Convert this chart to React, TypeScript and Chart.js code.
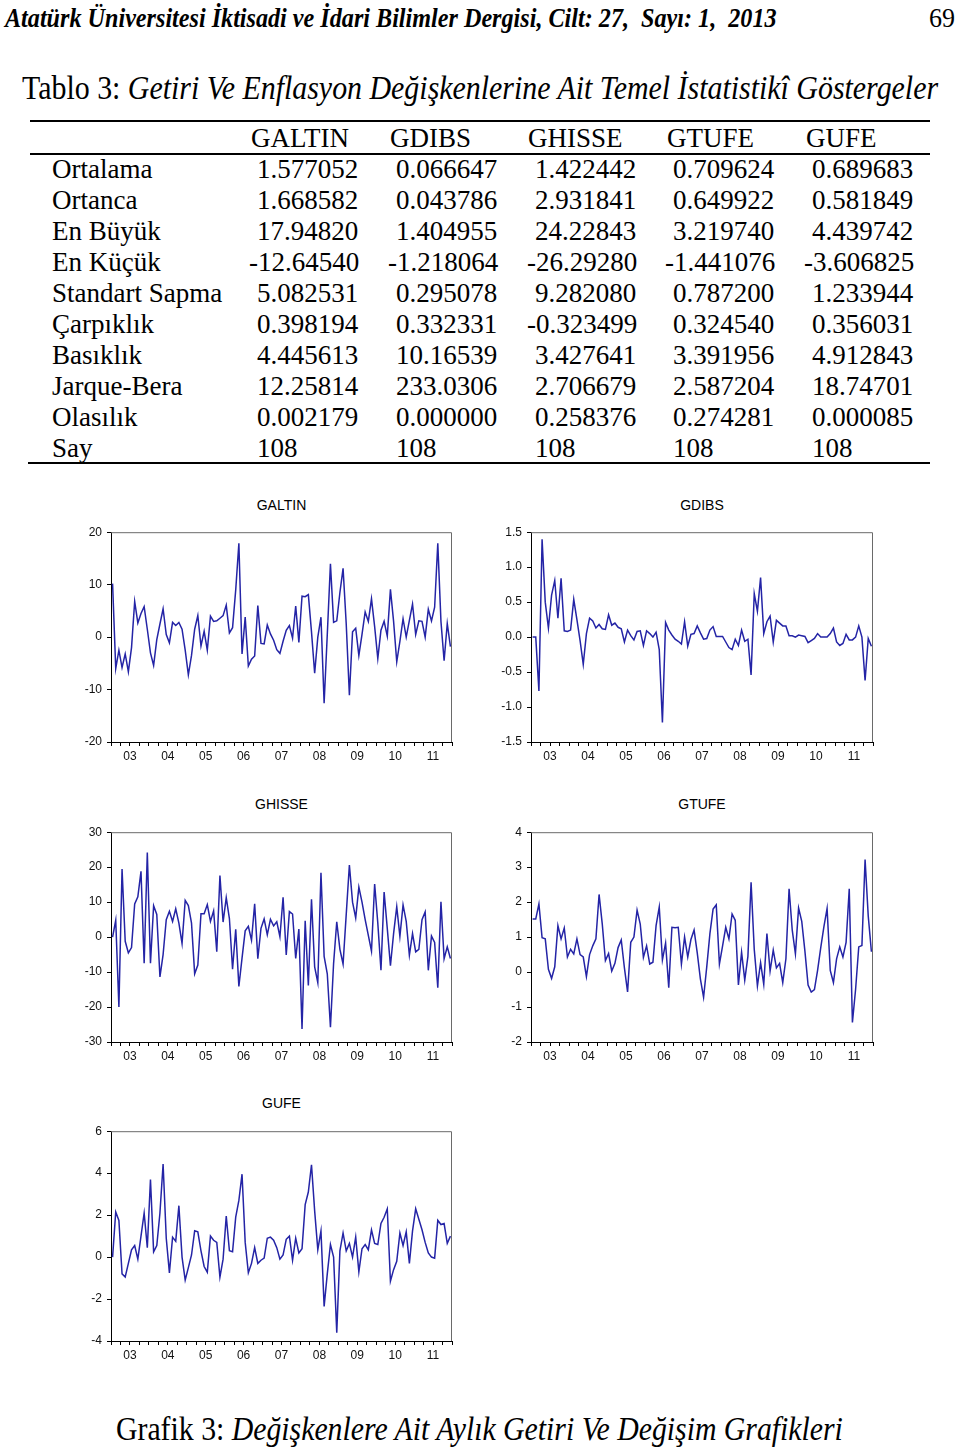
import React, { useEffect, useLayoutEffect, useRef, useState } from 'react';
import { Chart, registerables } from 'chart.js';
Chart.register(...registerables);

// ---------- data ----------
const yearLabels = ['03', '04', '05', '06', '07', '08', '09', '10', '11'];

const galtin = [10.2, -6, -2.5, -5.8, -3.2, -6.6, -2, 6.8, 2.7, 4.5, 5.8, 1.5, -3, -5.4, -0.5, 2.5, 5.4, 0.5, -1.1, 2.8, 2.2, 2.8, 1.5, -2.5, -7.2, -3.5, 1.5, 4.1, -1.7, 1.1, -2.5, 4, 3, 3.1, 3.6, 4.1, 6.1, 0.8, 1.8, 9, 17.9, -3.2, 3.8, -5.5, -4.2, -3.6, 6, -1.2, -1.3, 2.3, 0.6, -0.6, -2.4, -3.1, -0.8, 1.3, 2.2, -0.2, 5.9, -1, 7.8, 7.7, 8.1, 1, -6.9, 0, 3.8, -12.6, 0.5, 14, 2.8, 3.1, 8.5, 13.1, 2.5, -11.1, 1, 1.7, -3.5, 0.5, 4.8, 3, 7.3, 2, -4.1, 1.3, 3, 0.2, 9.1, 3, -4.7, -0.8, 3.5, 0, 3.2, 6.3, 0.5, 3.1, 3, 0, 5.3, 3.1, 5.7, 17.9, 3, -4.5, 2.6, -1.8];

const gdibs = [0.0, 0.0, -0.77, 1.4, 0.5, 0.13, 0.6, 0.81, 0.27, 0.84, 0.09, 0.08, 0.1, 0.54, 0.25, -0.05, -0.39, 0.05, 0.27, 0.23, 0.13, 0.18, 0.12, 0.11, 0.32, 0.17, 0.2, 0.14, 0.12, -0.07, 0.1, 0.02, -0.04, 0.08, 0.09, -0.12, 0.09, 0.05, 0.0, 0.07, -0.18, -1.22, 0.21, 0.1, 0.03, -0.03, -0.06, -0.1, 0.22, -0.13, 0.04, 0.05, 0.16, 0.06, -0.03, -0.02, 0.1, 0.15, 0.01, 0.01, 0.01, -0.07, -0.15, -0.18, -0.03, -0.12, 0.1, -0.06, -0.03, -0.54, 0.62, 0.37, 0.85, 0.05, 0.22, 0.3, -0.07, 0.24, 0.2, 0.16, 0.16, 0.02, 0.02, 0.0, 0.03, 0.02, 0.01, -0.08, -0.05, -0.02, 0.05, 0.0, 0.0, 0.0, 0.05, 0.13, -0.07, -0.12, -0.09, 0.04, -0.04, -0.04, 0.0, 0.16, 0.0, -0.62, -0.02, -0.13];

const ghisse = [0, 4.8, -20, 19.5, -1.2, -4.5, -3, 9.5, 11.5, 18.8, -7.5, 24.2, -7.5, 9, 6.5, -11.4, -5, 5, 7.4, 4.5, 8.1, 4, -1.8, 10.5, 9, 4, -10.5, -8, 6.7, 6.7, 9.3, 4.5, 7.5, -4.2, 17.6, 4.3, 11.3, 5.3, -9.2, 2.2, -14.1, -6, 1.8, 3.1, -0.9, 9.5, -6.2, 2.5, 5.2, 0.7, 5.1, 3.2, 4.4, 0.1, 11.4, -5.1, 7.3, 6.6, -6.1, 2.3, -26.3, 4.7, -13.8, 10.8, -8.5, -13, 18.4, -5.5, -10.5, -25.8, -7.5, 4.4, -3.5, -7.7, 6.5, 20.6, 10, 5.5, 14.3, 10, 5, 0.5, -4, 15.2, 4, -9.5, 12.9, 2.5, -8.2, 1, 8.7, 0.2, 9.2, 4.5, -5.2, 1, -4.2, -3.5, 5, 7.2, -9.5, 0.3, -1.5, -14.5, 10.1, -6.2, -2.8, -6.1];

const gtufe = [1.52, 1.52, 1.95, 0.98, 0.95, 0.08, -0.18, 0.15, 1.33, 0.95, 1.26, 0.43, 0.65, 0.52, 0.95, 0.5, 0.43, -0.13, 0.5, 0.75, 0.95, 2.22, 1.38, 0.33, 0.53, 0.03, 0.25, 0.7, 0.92, 0.12, -0.57, 0.85, 1.0, 1.77, 1.37, 0.42, 0.75, 0.23, 0.28, 1.33, 1.86, 0.35, 0.83, -0.45, 1.28, 1.27, 1.28, 0.23, 1.0, 0.43, 0.93, 1.2, 0.55, -0.2, -0.72, 0.15, 1.1, 1.8, 1.92, 0.23, 0.75, 1.28, 0.95, 1.66, 1.48, -0.37, 0.57, -0.23, 0.45, 2.57, 0.65, -0.4, 0.27, -0.35, 1.1, 0.03, 0.63, 0.12, 0.25, -0.3, 0.38, 2.38, 1.2, 0.52, 1.83, 1.45, 0.6, -0.37, -0.57, -0.5, 0.05, 0.7, 1.3, 1.82, 0.05, -0.3, 0.38, 0.72, 0.43, 0.85, 2.38, -1.44, -0.5, 0.72, 0.76, 3.22, 1.6, 0.58];

const gufe = [0.0, 2.15, 1.75, -0.8, -0.95, -0.3, 0.35, 0.55, -0.1, 1.0, 2.1, 0.45, 3.7, 0.25, 0.55, 2.1, 4.44, 0.9, -0.75, 0.95, 0.75, 2.45, 0.0, -1.1, -0.5, 0.1, 1.25, 1.2, 0.3, -0.45, -0.72, 1.0, 0.8, 0.7, -0.95, -0.1, 1.95, 0.3, 0.25, 1.9, 2.7, 3.95, 0.7, -0.75, -0.3, 0.45, -0.3, -0.15, -0.05, 0.9, 0.95, 0.8, 0.45, -0.1, 0.1, 0.85, 1.0, -0.15, 0.9, 0.2, 0.4, 2.5, 3.1, 4.4, 2.2, 0.35, 1.25, -2.35, -0.8, 0.6, 0.0, -3.6, 0.3, 1.15, 0.3, 0.65, 0.0, 0.95, -0.7, 0.4, 0.6, 0.35, 1.3, 0.65, 0.6, 1.6, 1.9, 2.3, -1.15, -0.6, -0.2, 1.15, 0.55, 1.2, -0.3, 1.25, 2.3, 1.8, 1.3, 0.7, 0.2, 0.0, -0.05, 1.75, 1.55, 1.6, 0.65, 1.0];

const statColumns = ['GALTIN', 'GDIBS', 'GHISSE', 'GTUFE', 'GUFE'];
const statRows = ['Ortalama', 'Ortanca', 'En Büyük', 'En Küçük', 'Standart Sapma', 'Çarpıklık', 'Basıklık', 'Jarque-Bera', 'Olasılık', 'Say'];
const rowOrtalama = ['1.577052', '0.066647', '1.422442', '0.709624', '0.689683'];
const rowOrtanca = ['1.668582', '0.043786', '2.931841', '0.649922', '0.581849'];
const rowEnBuyuk = ['17.94820', '1.404955', '24.22843', '3.219740', '4.439742'];
const rowEnKucuk = ['-12.64540', '-1.218064', '-26.29280', '-1.441076', '-3.606825'];
const rowStdSapma = ['5.082531', '0.295078', '9.282080', '0.787200', '1.233944'];
const rowCarpiklik = ['0.398194', '0.332331', '-0.323499', '0.324540', '0.356031'];
const rowBasiklik = ['4.445613', '10.16539', '3.427641', '3.391956', '4.912843'];
const rowJarqueBera = ['12.25814', '233.0306', '2.706679', '2.587204', '18.74701'];
const rowOlasilik = ['0.002179', '0.000000', '0.258376', '0.274281', '0.000085'];
const rowSay = ['108', '108', '108', '108', '108'];
const statValues = [rowOrtalama, rowOrtanca, rowEnBuyuk, rowEnKucuk, rowStdSapma, rowCarpiklik, rowBasiklik, rowJarqueBera, rowOlasilik, rowSay];

// ---------- layout constants ----------
const SERIF = '"Liberation Serif", "Times New Roman", serif';
const SANS = '"Liberation Sans", Arial, sans-serif';
const LINE_COLOR = '#2424a6';

function FitText({ x, baseline, width, size, children, weight }: any) {
  const ref = useRef<HTMLSpanElement>(null);
  const [s, setS] = useState(1);
  useLayoutEffect(() => {
    if (ref.current) {
      const w = ref.current.offsetWidth;
      if (w > 0) setS(width / w);
    }
  }, [width]);
  return (
    <div
      style={{
        position: 'absolute',
        left: x,
        top: baseline - 0.8375 * size,
        whiteSpace: 'nowrap',
        lineHeight: size + 'px',
        fontSize: size,
        fontFamily: SERIF,
        fontWeight: weight || 'normal',
        color: '#000',
        transform: `scaleX(${s})`,
        transformOrigin: 'left top',
      }}
    >
      <span ref={ref}>{children}</span>
    </div>
  );
}

function Txt({ x, baseline, size, children, family, style }: any) {
  return (
    <div
      style={{
        position: 'absolute',
        left: x,
        top: baseline - 0.8375 * size,
        whiteSpace: 'nowrap',
        lineHeight: size + 'px',
        fontSize: size,
        fontFamily: family || SERIF,
        color: '#000',
        ...style,
      }}
    >
      {children}
    </div>
  );
}

const framePlugin = {
  id: 'frame',
  afterDraw(chart: any) {
    const { ctx, chartArea } = chart;
    const { left, top, right, bottom } = chartArea;
    ctx.save();
    ctx.strokeStyle = '#6a6a6a';
    ctx.lineWidth = 1;
    ctx.beginPath();
    ctx.moveTo(left, top + 0.5);
    ctx.lineTo(right - 0.5, top + 0.5);
    ctx.lineTo(right - 0.5, bottom);
    ctx.stroke();
    ctx.restore();
  },
};

const Y_AXIS_W = 41;
const PAD_TOP = 12;
const PAD_RIGHT = 8;
const X_AXIS_H = 30;

function SeriesChart({ title, values, yMin, yMax, step, decimals, plotLeft, plotTop, plotW, plotH, titleY }: any) {
  const ref = useRef<HTMLCanvasElement>(null);
  const W = plotW + Y_AXIS_W + PAD_RIGHT;
  const H = plotH + PAD_TOP + X_AXIS_H;
  useEffect(() => {
    if (!ref.current) return;
    const n = values.length;
    const data = values.map((v: number, i: number) => ({ x: i, y: v }));
    const quarterTicks: { value: number }[] = [];
    for (let k = 0; k * 3 <= n; k++) quarterTicks.push({ value: -0.5 + k * 3 });
    const chart = new Chart(ref.current, {
      type: 'line',
      data: {
        datasets: [
          {
            data,
            borderColor: LINE_COLOR,
            borderWidth: 1.5,
            pointRadius: 0,
            tension: 0,
            fill: false,
          },
        ],
      },
      plugins: [framePlugin],
      options: {
        animation: false,
        responsive: false,
        devicePixelRatio: 1,
        events: [],
        layout: { padding: { top: PAD_TOP, right: PAD_RIGHT, left: 0, bottom: 0 } },
        plugins: { legend: { display: false }, tooltip: { enabled: false }, title: { display: false } },
        scales: {
          x: {
            type: 'linear',
            min: -0.5,
            max: n - 0.5,
            afterBuildTicks: (axis: any) => {
              axis.ticks = quarterTicks.map((t) => ({ value: t.value }));
            },
            afterFit: (axis: any) => {
              axis.height = X_AXIS_H;
            },
            ticks: {
              autoSkip: false,
              maxRotation: 0,
              padding: 3,
              color: '#111',
              font: { family: SANS, size: 12 },
              callback: (v: any) => {
                const m = Number(v) + 0.5 - 6;
                if (Math.abs(m % 12) < 1e-6) {
                  const idx = Math.round(m / 12);
                  return yearLabels[idx] ?? '';
                }
                return '';
              },
            },
            grid: { drawOnChartArea: false, drawTicks: true, tickLength: 4, color: '#000' },
            border: { display: true, color: '#000', width: 1 },
          },
          y: {
            type: 'linear',
            min: yMin,
            max: yMax,
            afterFit: (axis: any) => {
              axis.width = Y_AXIS_W;
            },
            ticks: {
              stepSize: step,
              padding: 5,
              color: '#111',
              font: { family: SANS, size: 12 },
              callback: (v: any) => Number(v).toFixed(decimals),
            },
            grid: { drawOnChartArea: false, drawTicks: true, tickLength: 4, color: '#000' },
            border: { display: true, color: '#000', width: 1 },
          },
        },
      } as any,
    });
    return () => chart.destroy();
  }, []);
  return (
    <>
      <div
        style={{
          position: 'absolute',
          left: plotLeft,
          width: plotW,
          top: titleY - 9,
          textAlign: 'center',
          fontFamily: SANS,
          fontSize: 14,
          lineHeight: '18px',
          color: '#000',
        }}
      >
        {title}
      </div>
      <canvas
        ref={ref}
        width={W}
        height={H}
        style={{ position: 'absolute', left: plotLeft - Y_AXIS_W, top: plotTop - PAD_TOP, width: W, height: H }}
      />
    </>
  );
}

const valueColX = [257, 396, 535, 673, 812];
const headerColX = [251, 390, 528, 667, 806];

export default function App() {
  const TS = 27;
  return (
    <div style={{ position: 'absolute', left: 0, top: 0, width: 960, height: 1450, background: '#fff', overflow: 'hidden' }}>
      <FitText x={5} baseline={28} width={772} size={27} weight="bold">
        <i>Atatürk Üniversitesi İktisadi ve İdari Bilimler Dergisi, Cilt: 27,&nbsp; Sayı: 1,&nbsp; 2013</i>
      </FitText>
      <FitText x={929} baseline={28} width={26} size={27}>
        69
      </FitText>
      <FitText x={22} baseline={100} width={916} size={33}>
        Tablo 3: <i>Getiri Ve Enflasyon Değişkenlerine Ait Temel İstatistikî Göstergeler</i>
      </FitText>

      {/* table rules */}
      <div style={{ position: 'absolute', left: 30, top: 120, width: 900, height: 2, background: '#000' }} />
      <div style={{ position: 'absolute', left: 30, top: 153, width: 900, height: 2, background: '#000' }} />
      <div style={{ position: 'absolute', left: 28, top: 462, width: 902, height: 2, background: '#000' }} />

      {statColumns.map((c, j) => (
        <Txt key={c} x={headerColX[j]} baseline={148} size={TS}>
          {c}
        </Txt>
      ))}
      {statRows.map((r, i) => (
        <React.Fragment key={r}>
          <Txt x={52} baseline={179 + i * 31} size={TS}>
            {r}
          </Txt>
          {statValues[i].map((v, j) => (
            <Txt key={j} x={valueColX[j] - (v.startsWith('-') ? 8 : 0)} baseline={179 + i * 31} size={TS}>
              {v}
            </Txt>
          ))}
        </React.Fragment>
      ))}

      <SeriesChart title="GALTIN" values={galtin} yMin={-20} yMax={20} step={10} decimals={0} plotLeft={111} plotTop={532} plotW={341} plotH={210} titleY={505} />
      <SeriesChart title="GDIBS" values={gdibs} yMin={-1.5} yMax={1.5} step={0.5} decimals={1} plotLeft={531} plotTop={532} plotW={342} plotH={210} titleY={505} />
      <SeriesChart title="GHISSE" values={ghisse} yMin={-30} yMax={30} step={10} decimals={0} plotLeft={111} plotTop={832} plotW={341} plotH={210} titleY={804} />
      <SeriesChart title="GTUFE" values={gtufe} yMin={-2} yMax={4} step={1} decimals={0} plotLeft={531} plotTop={832} plotW={342} plotH={210} titleY={804} />
      <SeriesChart title="GUFE" values={gufe} yMin={-4} yMax={6} step={2} decimals={0} plotLeft={111} plotTop={1131} plotW={341} plotH={210} titleY={1103} />

      <FitText x={116} baseline={1441} width={727} size={33}>
        Grafik 3: <i>Değişkenlere Ait Aylık Getiri Ve Değişim Grafikleri</i>
      </FitText>
    </div>
  );
}
